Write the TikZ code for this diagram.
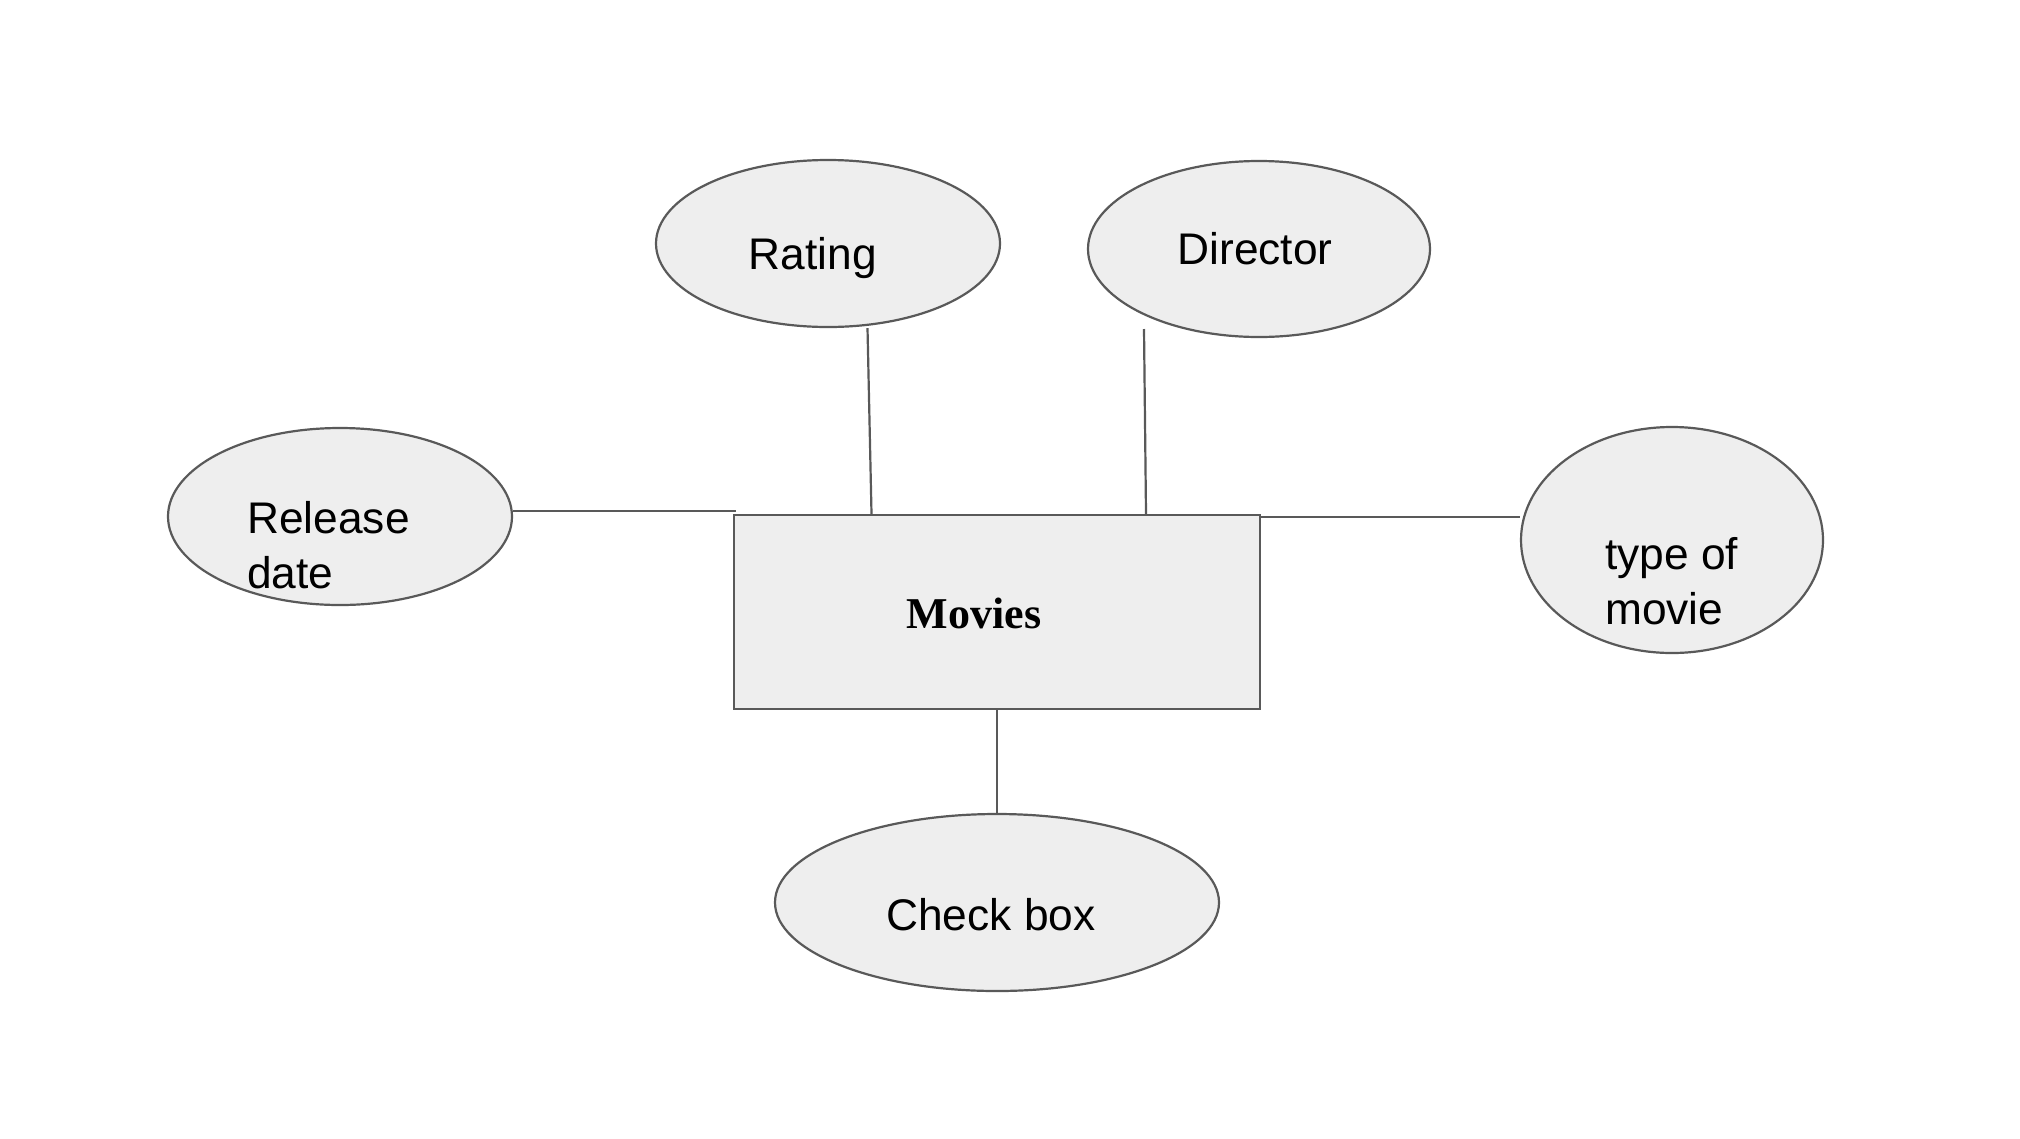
\documentclass[tikz,border=0pt]{standalone}
\usepackage{fontspec}
\setmainfont{Liberation Sans}
\newfontfamily\serifbold{Liberation Serif}
\usetikzlibrary{shapes.geometric}
\definecolor{edgegray}{HTML}{595959}
\definecolor{fillgray}{HTML}{EEEEEE}
\tikzset{
  attr/.style={ellipse, draw=edgegray, fill=fillgray, line width=2.2pt, inner sep=0pt},
  entity/.style={rectangle, draw=edgegray, fill=fillgray, line width=2.4pt, inner sep=0pt, minimum width=526pt, minimum height=194pt},
  conn/.style={draw=edgegray, line width=2.2pt},
  lbl/.style={font=\fontsize{44.3pt}{54.5pt}\selectfont, inner sep=0pt},
}
\begin{document}
\begin{tikzpicture}[x=1pt,y=-1pt]
\useasboundingbox (0,0) rectangle (2020,1138);
\fill[white] (0,0) rectangle (2020,1138);
% attribute ellipses
\node[attr, minimum width=344pt, minimum height=167pt] (rating) at (828,243.5) {};
\node[attr, minimum width=342pt, minimum height=176pt] (director) at (1259,249) {};
\node[attr, minimum width=344pt, minimum height=177pt] (release) at (340,516.5) {};
\node[attr, minimum width=302pt, minimum height=226pt] (type) at (1672,540) {};
\node[attr, minimum width=444pt, minimum height=177pt] (check) at (997,902.5) {};
% entity
\node[entity] (movies) at (997,612) {};
% texts
\node[lbl, anchor=base] (ratingtxt) at (813,269) {Rating};
\node[lbl, anchor=base] (directortxt) at (1255,264) {Director};
\node[lbl, anchor=base] (checktxt) at (991,930) {Check box};
\node[lbl, anchor=west, align=left] (releasetxt) at (247,545) {Release\\date};
\node[lbl, anchor=west, align=left] (typetxt) at (1605,581) {type of\\movie};
\node[anchor=base, inner sep=0pt, font=\serifbold\bfseries\fontsize{44pt}{50pt}\selectfont] (moviestxt) at (974,628) {Movies};
% connectors
\coordinate (rl) at (736,511);
\draw[conn] (release.east |- 0,511) -- (rl);
\draw[conn] (rating.south -| 867.5,0) -- (movies.north -| 871.5,0);
\coordinate (ds) at (1144,329);
\draw[conn] (ds) -- (movies.north -| 1146,0);
\draw[conn] (movies.north east |- 0,517) -- (type.west |- 0,517);
\draw[conn] (movies.south) -- (check.north);
\end{tikzpicture}
\end{document}
